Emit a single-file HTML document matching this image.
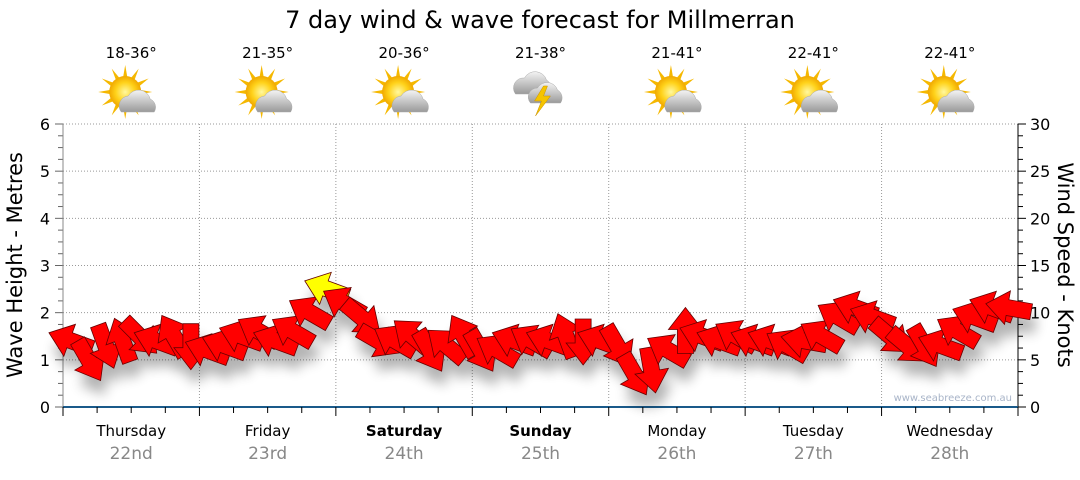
<!DOCTYPE html>
<html><head><meta charset="utf-8"><style>
body{margin:0;background:#fff;font-family:"Liberation Sans","DejaVu Sans",sans-serif}
svg text{font-family:"DejaVu Sans","Liberation Sans",sans-serif}
</style></head><body>
<svg id="c" width="1080" height="475" xmlns="http://www.w3.org/2000/svg">
<defs>
<filter id="sh" x="-50%" y="-50%" width="200%" height="200%"><feGaussianBlur in="SourceAlpha" stdDeviation="6"/><feOffset dx="4" dy="14"/><feComponentTransfer><feFuncA type="linear" slope="0.3"/></feComponentTransfer><feMerge><feMergeNode/><feMergeNode in="SourceGraphic"/></feMerge></filter>
<radialGradient id="sun" cx="0.5" cy="0.5" r="0.5"><stop offset="0" stop-color="#fff8a0"/><stop offset="0.6" stop-color="#ffd21a"/><stop offset="1" stop-color="#f0a800"/></radialGradient>
<linearGradient id="cl" x1="0" y1="0" x2="0" y2="1"><stop offset="0" stop-color="#f4f4f4"/><stop offset="1" stop-color="#9a9a9a"/></linearGradient>
</defs>
<text x="540" y="28" font-size="24" text-anchor="middle" fill="#000">7 day wind &amp; wave forecast for Millmerran</text>
<g id="grid"></g><g id="axes"></g><g id="hdr"></g>
<g id="arrows" filter="url(#sh)"></g>
<text x="1012" y="401" font-size="10" text-anchor="end" fill="#a8b4c8">www.seabreeze.com.au</text>
<text transform="translate(22,265) rotate(-90)" font-size="21" text-anchor="middle">Wave Height - Metres</text>
<text transform="translate(1058,265) rotate(90)" font-size="21" text-anchor="middle">Wind Speed - Knots</text>
</svg>
<script>
const days=["Thursday","Friday","Saturday","Sunday","Monday","Tuesday","Wednesday"];
const dates=["22nd","23rd","24th","25th","26th","27th","28th"];
const boldDays=[false,false,true,true,false,false,false];
const temps=["18-36°","21-35°","20-36°","21-38°","21-41°","22-41°","22-41°"];
const icons=["sun","sun","sun","storm","sun","sun","sun"];
const waveTicks=[0,1,2,3,4,5,6];
const windTicks=[0,5,10,15,20,25,30];
// 3-hourly wind speed (knots) and arrow heading (deg, screen: 0=right, 90=down)
const windSpeed=[7,5,6.5,7,7.5,7,7.5,6.5, 6,6.5,7.5,8,7,8,10,12.5, 11,9.5,7,7,7.5,6,6.5,7.5, 6,6,7,7,7,7.5,7,7, 6.5,3.5,4,6,8,7.5,7,7.5, 7,7,6.5,7,7.5,9.5,10.5,9.5, 7.5,6.5,6.5,6.5,8,9.5,10.5,10.5];
const windDir=[200,60,70,250,45,200,240,90, 200,200,200,210,200,210,210,200, 210,40,30,210,220,60,220,240, 60,210,200,210,200,250,90,200, 60,60,80,210,270,200,200,210, 200,200,210,190,210,210,200,200, 40,40,60,200,210,200,200,190];
const X0=63,X1=1018,Y0=407,Y1=124;
const xDay=d=>X0+(X1-X0)*d/7;
const yWave=m=>Y0-(Y0-Y1)*m/6;
const yWind=k=>Y0-(Y0-Y1)*k/30;
const NS="http://www.w3.org/2000/svg";
function mk(p,t,a,txt){const e=document.createElementNS(NS,t);for(const k in a)e.setAttribute(k,a[k]);if(txt!==undefined)e.textContent=txt;p.appendChild(e);return e;}
const G=document.getElementById('grid'),A=document.getElementById('axes'),H=document.getElementById('hdr'),AR=document.getElementById('arrows');
waveTicks.forEach(m=>{if(m>0){const l=mk(G,'line',{x1:X0,x2:X1,y1:yWave(m),y2:yWave(m),stroke:'#999','stroke-dasharray':'1,2'});}
 const t=mk(A,'text',{x:50,y:yWave(m)+6,'font-size':16,'text-anchor':'end',fill:'#000'},m);});
for(let i=0;i<=24;i++){const y=Y0-(Y0-Y1)*i/24;mk(A,'line',{x1:i%4?58:55,x2:X0,y1:y,y2:y,stroke:'#666'});mk(A,'line',{x1:X1,x2:i%4?X1+5:X1+8,y1:y,y2:y,stroke:'#000'});}
mk(A,'line',{x1:X0,x2:X0,y1:Y1,y2:Y0,stroke:'#888'});
mk(A,'line',{x1:X1,x2:X1,y1:Y1,y2:Y0,stroke:'#000'});
windTicks.forEach(k=>{const t=mk(A,'text',{x:1030,y:yWind(k)+6,'font-size':16,fill:'#000'},k);});
for(let d=1;d<7;d++){const l=mk(G,'line',{x1:xDay(d),x2:xDay(d),y1:Y1,y2:Y0,stroke:'#999','stroke-dasharray':'1,2'});}
mk(A,'line',{x1:X0,x2:X1,y1:Y0,y2:Y0,stroke:'#1a5a8a','stroke-width':2});
for(let i=0;i<=28;i++){const x=X0+(X1-X0)*i/28;mk(A,'line',{x1:x,x2:x,y1:Y0,y2:i%4?Y0+6:Y0+9,stroke:'#000'});}
function sunIcon(g,cx,cy){for(let i=0;i<12;i++){const a=i*Math.PI/6;mk(g,'polygon',{points:`${cx+Math.cos(a-0.14)*15},${cy+Math.sin(a-0.14)*15} ${cx+Math.cos(a)*27},${cy+Math.sin(a)*27} ${cx+Math.cos(a+0.14)*15},${cy+Math.sin(a+0.14)*15}`,fill:'#f5b800'});}
 mk(g,'circle',{cx:cx,cy:cy,r:16,fill:'url(#sun)'});
 mk(g,'path',{d:`M${cx-4} ${cy+20} a10 10 0 0 1 7-16 a12 12 0 0 1 22 3 a9 9 0 0 1 4 13 z`,fill:'url(#cl)',stroke:'#aaa','stroke-width':0.5});}
function stormIcon(g,cx,cy){mk(g,'path',{d:`M${cx-28} ${cy+6} a10 10 0 0 1 9-16 a12 12 0 0 1 22 2 a9 9 0 0 1 2 14 z`,fill:'url(#cl)',stroke:'#aaa','stroke-width':0.5});
 mk(g,'path',{d:`M${cx-13} ${cy+15} a9 9 0 0 1 7-15 a11 11 0 0 1 20 2 a9 9 0 0 1 3 13 z`,fill:'url(#cl)',stroke:'#aaa','stroke-width':0.5});
 mk(g,'polygon',{points:`${cx} ${cy-2} ${cx-9} ${cy+13} ${cx-2} ${cy+13} ${cx-8} ${cy+28} ${cx+7} ${cy+8} ${cx} ${cy+8} ${cx+4} ${cy-2}`,fill:'#f5c400',stroke:'#c89000','stroke-width':0.5});}
days.forEach((d,i)=>{const cx=(xDay(i)+xDay(i+1))/2;
 const t=mk(H,'text',{x:cx,y:58,'font-size':15,'text-anchor':'middle'},temps[i]);
 const g=mk(H,'g',{});
 if(icons[i]==='storm')stormIcon(g,cx+3,88);else sunIcon(g,cx-6,92);
 const dl=mk(H,'text',{x:cx,y:436,'font-size':15,'text-anchor':'middle','font-weight':boldDays[i]?'bold':'normal'},d);
 const dt=mk(H,'text',{x:cx,y:459,'font-size':17,'text-anchor':'middle',fill:'#888'},dates[i]);});
windSpeed.forEach((k,i)=>{const x=X0+(X1-X0)*(i+0.5)/windSpeed.length,y=yWind(k);
 const p=mk(AR,'polygon',{points:'24,0 2,-17 2,-8 -22,-8 -22,8 2,8 2,17',fill:k>=12?'#ffff00':'#ff0000',stroke:'#600','stroke-width':0.8,transform:`translate(${x},${y}) rotate(${windDir[i]})`});
 
 });
</script>
</body></html>
